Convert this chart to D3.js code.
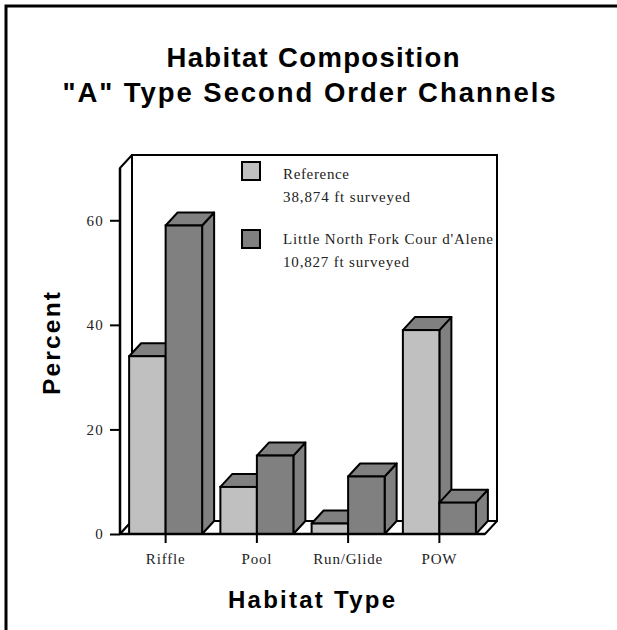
<!DOCTYPE html>
<html><head><meta charset="utf-8">
<script src="https://cdn.jsdelivr.net/npm/d3@7"></script>
<style>
html,body{margin:0;padding:0;background:#fff;}
svg{display:block;}
</style>
</head><body>
<svg id="chart" width="617" height="630"></svg>
<script>
const categories = ["Riffle", "Pool", "Run/Glide", "POW"];
const seriesNames = ["Reference", "Little North Fork Cour d'Alene"];
const seriesNotes = ["38,874 ft surveyed", "10,827 ft surveyed"];
const referenceValues = [34, 9, 2, 39];
const littleNorthForkValues = [59, 15, 11, 6];
const yTicks = [0, 20, 40, 60];
const frontColors = ["#c0c0c0", "#808080"];
const shadeColor = "#808080";

const svg = d3.select("#chart");
const serif = "'Liberation Serif','Times New Roman',serif";
const sans = "'Liberation Sans',Arial,sans-serif";

// outer frame
svg.append("path").attr("d","M6,632 V6 H620").attr("fill","none").attr("stroke","#000").attr("stroke-width",3);

// titles
svg.append("text").attr("x",313).attr("y",67).attr("text-anchor","middle")
  .attr("font-family",sans).attr("font-weight","bold").attr("font-size",27.5)
  .attr("textLength",293).attr("lengthAdjust","spacing").text("Habitat Composition");
svg.append("text").attr("x",309).attr("y",102).attr("text-anchor","middle")
  .attr("font-family",sans).attr("font-weight","bold").attr("font-size",27.5)
  .attr("textLength",493).attr("lengthAdjust","spacing").text('"A" Type Second Order Channels');

const x0 = 120, x1 = 485, yBase = 534, yTop = 168;
const dx = 12, dy = -13;
const y = d3.scaleLinear().domain([0, 70]).range([yBase, yTop]);
const x = d3.scaleBand().domain(categories).range([x0, x1]).paddingInner(0).paddingOuter(0);
const inner = d3.scaleBand().domain([0,1]).range([x.bandwidth()*0.1, x.bandwidth()*0.9]);

const g = svg.append("g");
const sw = 2;
g.append("rect").attr("x", x0+dx).attr("y", y(70)+dy).attr("width", x1-x0).attr("height", yBase - y(70))
  .attr("fill","#fff").attr("stroke","#000").attr("stroke-width",sw);
g.append("path").attr("d",`M${x0},${yBase} L${x0},${y(70)} L${x0+dx},${y(70)+dy} L${x0+dx},${yBase+dy} Z`)
  .attr("fill","#fff").attr("stroke","#000").attr("stroke-width",sw).attr("stroke-linejoin","round");
g.append("path").attr("d",`M${x0},${yBase} L${x1},${yBase} L${x1+dx},${yBase+dy} L${x0+dx},${yBase+dy} Z`)
  .attr("fill","#fff").attr("stroke","#000").attr("stroke-width",sw).attr("stroke-linejoin","round");

const seriesValues = [referenceValues, littleNorthForkValues];
const bars = [];
categories.forEach((c, i) => {
  seriesValues.forEach((vals, s) => {
    bars.push({cat: c, s, v: vals[i]});
  });
});
const barG = g.selectAll("g.bar").data(bars).join("g").attr("class","bar");
barG.each(function(d){
  const gg = d3.select(this);
  const bx = x(d.cat) + inner(d.s);
  const bw = inner.bandwidth();
  const top = y(d.v);
  gg.append("path").attr("d",`M${bx+bw},${yBase} L${bx+bw+dx},${yBase+dy} L${bx+bw+dx},${top+dy} L${bx+bw},${top} Z`)
    .attr("fill",shadeColor).attr("stroke","#000").attr("stroke-width",sw).attr("stroke-linejoin","round");
  gg.append("path").attr("d",`M${bx},${top} L${bx+dx},${top+dy} L${bx+bw+dx},${top+dy} L${bx+bw},${top} Z`)
    .attr("fill",shadeColor).attr("stroke","#000").attr("stroke-width",sw).attr("stroke-linejoin","round");
  gg.append("rect").attr("x",bx).attr("y",top).attr("width",bw).attr("height",yBase-top)
    .attr("fill",frontColors[d.s]).attr("stroke","#000").attr("stroke-width",sw);
});

g.append("line").attr("x1",x0).attr("x2",x1).attr("y1",yBase).attr("y2",yBase).attr("stroke","#000").attr("stroke-width",sw+0.5);
g.append("line").attr("x1",x0).attr("x2",x0).attr("y1",yBase).attr("y2",y(70)).attr("stroke","#000").attr("stroke-width",sw+0.5);

const yAxis = d3.axisLeft(y).tickValues(yTicks).tickSize(10).tickPadding(6).tickFormat(d3.format("d"));
const ya = svg.append("g").attr("transform",`translate(${x0},0)`).call(yAxis);
ya.select(".domain").remove();
ya.selectAll("line").attr("stroke","#000").attr("stroke-width",2);
ya.selectAll("text").attr("font-family",serif).attr("font-size",15).attr("fill","#222").attr("letter-spacing","1.2px");

const xAxis = d3.axisBottom(x).tickSize(9).tickPadding(10);
const xa = svg.append("g").attr("transform",`translate(0,${yBase})`).call(xAxis);
xa.select(".domain").remove();
xa.selectAll("line").attr("stroke","#000").attr("stroke-width",2);
xa.selectAll("text").attr("font-family",serif).attr("font-size",15).attr("fill","#222").attr("letter-spacing","0.8px");

const legendY = [162, 230];
const textBase = [[179, 201.5],[244, 266.5]];
const textLens = [[66, 127],[210, 126]];
seriesNames.forEach((n, i) => {
  svg.append("rect").attr("x",242).attr("y",legendY[i]).attr("width",18).attr("height",18)
    .attr("fill",frontColors[i]).attr("stroke","#000").attr("stroke-width",2);
  svg.append("text").attr("x",283).attr("y",textBase[i][0]).attr("font-family",serif).attr("font-size",15)
    .attr("fill","#222").attr("textLength",textLens[i][0]).attr("lengthAdjust","spacing").text(n);
  svg.append("text").attr("x",283).attr("y",textBase[i][1]).attr("font-family",serif).attr("font-size",15)
    .attr("fill","#222").attr("textLength",textLens[i][1]).attr("lengthAdjust","spacing").text(seriesNotes[i]);
});

svg.append("text").attr("transform","translate(60,343.5) rotate(-90)").attr("text-anchor","middle")
  .attr("font-family",sans).attr("font-weight","bold").attr("font-size",24.5)
  .attr("textLength",103).attr("lengthAdjust","spacing").text("Percent");
svg.append("text").attr("x",311.5).attr("y",608).attr("text-anchor","middle")
  .attr("font-family",sans).attr("font-weight","bold").attr("font-size",24)
  .attr("textLength",167).attr("lengthAdjust","spacing").text("Habitat Type");
</script>
</body></html>
